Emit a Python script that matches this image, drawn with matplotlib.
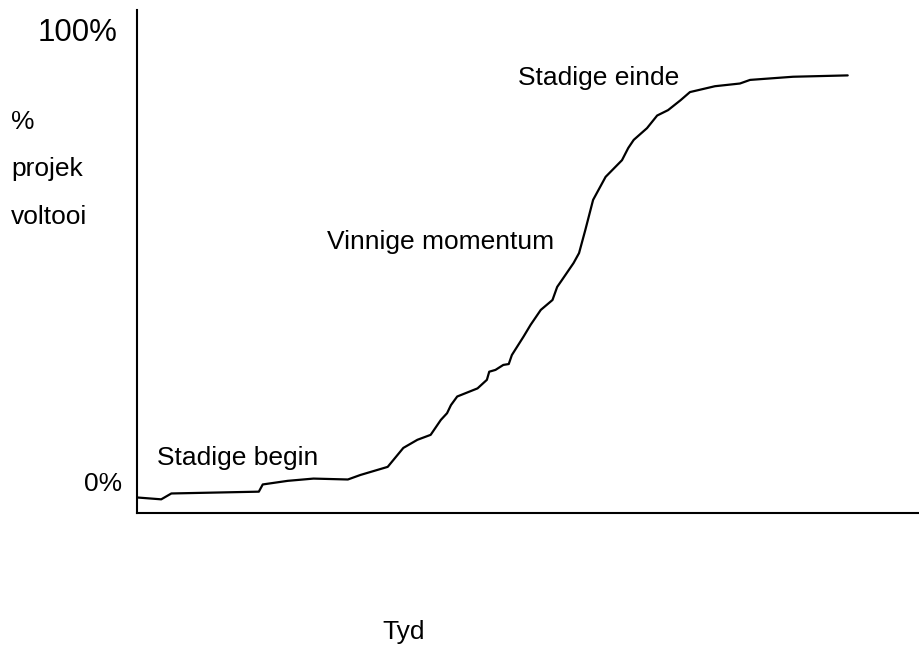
import matplotlib
matplotlib.use("Agg")
import matplotlib.pyplot as plt
import numpy as np

plt.rcParams["font.family"] = ["Liberation Sans", "DejaVu Sans"]

# progress curve: time (0-100) vs percent complete
time_pct = [0.1, 3.1, 4.4, 15.6, 16.1, 19.3, 22.6, 27.0, 28.6, 32.1, 34.1, 35.9,
            37.6, 38.9, 39.7, 40.2, 41.0, 43.6, 44.8, 45.1, 45.9, 46.9, 47.6, 48.0,
            49.5, 50.4, 51.7, 53.2, 53.8, 54.4, 55.9, 56.6, 57.4, 58.4, 60.0, 62.1,
            62.9, 63.6, 65.3, 66.6, 68.0, 69.6, 70.8, 74.0, 77.2, 78.5, 84.0, 91.0]
progress_pct = [-3.0, -3.4, -2.1, -1.7, -0.1, 0.7, 1.2, 1.0, 2.0, 3.8, 8.0, 9.8,
                10.9, 14.2, 15.7, 17.5, 19.4, 21.2, 23.1, 24.9, 25.3, 26.4, 26.6, 28.6,
                32.7, 35.3, 38.6, 40.8, 43.7, 45.2, 49.0, 51.2, 56.3, 63.0, 68.1, 71.8,
                74.5, 76.3, 78.9, 81.7, 82.9, 85.1, 86.9, 88.2, 88.8, 89.6, 90.3, 90.6]

stage_labels = ["Stadige begin", "Vinnige momentum", "Stadige einde"]
stage_time = [2.6, 24.3, 48.8]
stage_pct = [5.8, 53.6, 90.0]

y_label_lines = ["%", "projek", "voltooi"]

W, H = 919, 654
fig = plt.figure(figsize=(W / 100, H / 100), dpi=100)

# axes box in pixels: left spine x=137, bottom y=513, top y=10, right x=918
ax = fig.add_axes([137 / W, (H - 513) / H, (918 - 137) / W, (513 - 10) / H])
ax.plot(time_pct, progress_pct, color="black", linewidth=1.6,
        solid_capstyle="round", solid_joinstyle="round")
ax.set_xlim(0, 100)
# 0% sits at pixel y=484, 100% at y=33
px_per_pct = (484 - 33) / 100
ax.set_ylim((484 - 513) / px_per_pct, (484 - 10) / px_per_pct)

for side in ("top", "right"):
    ax.spines[side].set_visible(False)
for side in ("left", "bottom"):
    ax.spines[side].set_linewidth(1.5)
ax.set_xticks([])
ax.set_yticks([])

for label, t, p in zip(stage_labels, stage_time, stage_pct):
    ax.text(t, p, label, fontsize=19, ha="left", va="center")

fig.text(118 / W, 1 - 33 / H, "100%", fontsize=22.5, ha="right", va="center")
fig.text(122 / W, 1 - 484 / H, "0%", fontsize=19, ha="right", va="center")
for i, line in enumerate(y_label_lines):
    fig.text(11 / W, 1 - (122 + 47.5 * i) / H, line, fontsize=19, ha="left", va="center")
fig.text(404 / W, 1 - 632 / H, "Tyd", fontsize=19, ha="center", va="center")

fig.savefig("out.png", dpi=100)
plt.close(fig)
